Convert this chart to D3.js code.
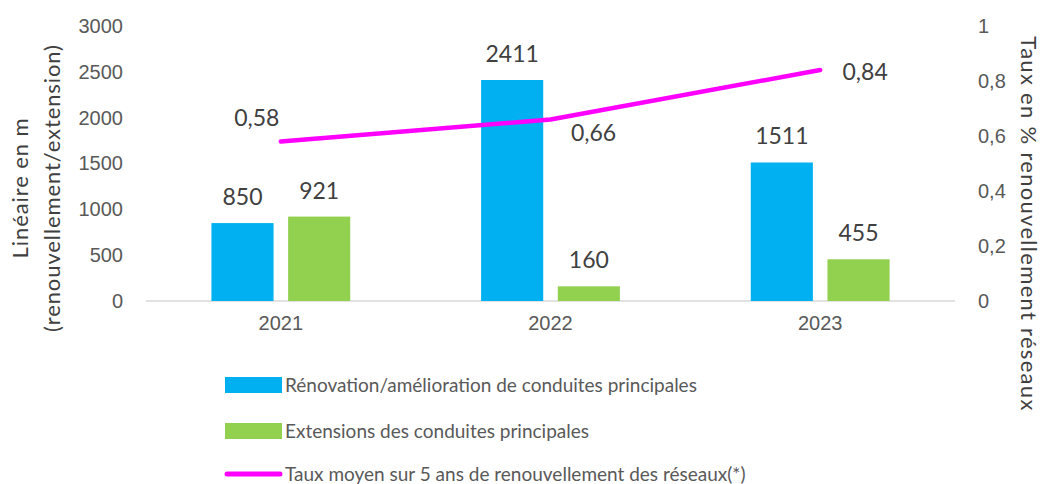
<!DOCTYPE html>
<html>
<head>
<meta charset="utf-8">
<script src="https://cdn.jsdelivr.net/npm/d3@7"></script>
<style>
  body { margin: 0; background: #fff; }
  svg { font-family: Lato, "Open Sans", sans-serif; }
</style>
</head>
<body>
<div id="chart"></div>
<script>
const years = ['2021', '2022', '2023'];
const renovation = [850, 2411, 1511];
const extensions = [921, 160, 455];
const taux = [0.58, 0.66, 0.84];
const leftTicks = [0, 500, 1000, 1500, 2000, 2500, 3000];
const rightTicks = [0, 0.2, 0.4, 0.6, 0.8, 1];
const seriesNames = [
    'Rénovation/amélioration de conduites principales',
    'Extensions des conduites principales',
    'Taux moyen sur 5 ans de renouvellement des réseaux(*)'
];

const width = 1043;
const height = 484;
const margin = {top: 26, bottom: 183, left: 146, right: 88};
const colors = ['#00B0F0', '#92D050', '#FF00FF'];
const fmt = d => String(d).replace('.', ',');

const svg = d3.select('#chart')
    .append('svg')
    .attr('width', width)
    .attr('height', height);

const x = d3.scaleBand()
    .domain(years)
    .range([margin.left, width - margin.right]);

const xSeries = d3.scaleBand()
    .domain([0, 1])
    .range([0, x.bandwidth()])
    .paddingInner(0.19)
    .paddingOuter(0.853);

const y = d3.scaleLinear()
    .domain([0, 3000])
    .range([height - margin.bottom, margin.top]);

const y2 = d3.scaleLinear()
    .domain([0, 1])
    .range([height - margin.bottom, margin.top]);

// axis line
svg.append('line')
    .attr('x1', margin.left)
    .attr('x2', width - margin.right)
    .attr('y1', y(0))
    .attr('y2', y(0))
    .attr('stroke', '#d9d9d9')
    .attr('stroke-width', 1.5);

// left axis
svg.append('g')
    .attr('transform', `translate(${margin.left - 23}, 0)`)
    .call(d3.axisLeft(y).tickValues(leftTicks).tickSize(0).tickPadding(0).tickFormat(d => d))
    .call(g => g.select('.domain').remove())
    .call(g => g.selectAll('text').attr('font-size', 20).attr('fill', '#595959').attr('font-family', null));

// right axis
svg.append('g')
    .attr('transform', `translate(${width - margin.right + 23}, 0)`)
    .call(d3.axisRight(y2).tickValues(rightTicks).tickSize(0).tickPadding(0).tickFormat(fmt))
    .call(g => g.select('.domain').remove())
    .call(g => g.selectAll('text').attr('font-size', 20).attr('fill', '#595959').attr('font-family', null));

// x axis labels
svg.append('g')
    .attr('transform', `translate(0, ${y(0) + 10})`)
    .call(d3.axisBottom(x).tickSize(0).tickPadding(0))
    .call(g => g.select('.domain').remove())
    .call(g => g.selectAll('text').attr('font-size', 20).attr('fill', '#595959').attr('font-family', null).attr('dy', '0.95em'));

// bars
const series = [renovation, extensions];
series.forEach((vals, s) => {
    svg.append('g')
        .attr('fill', colors[s])
        .selectAll('rect')
        .data(vals)
        .join('rect')
            .attr('x', (d, i) => x(years[i]) + xSeries(s))
            .attr('y', d => y(d))
            .attr('width', xSeries.bandwidth())
            .attr('height', d => y(0) - y(d));

    svg.append('g')
        .selectAll('text')
        .data(vals)
        .join('text')
            .attr('x', (d, i) => x(years[i]) + xSeries(s) + xSeries.bandwidth() / 2)
            .attr('y', d => y(d) - 18)
            .attr('text-anchor', 'middle')
            .attr('font-size', 23)
            .attr('fill', '#404040')
            .text(d => d);
});

// line
const cx = (d, i) => x(years[i]) + x.bandwidth() / 2;
const line = d3.line()
    .x(cx)
    .y(d => y2(d));

svg.append('path')
    .datum(taux)
    .attr('d', line)
    .attr('fill', 'none')
    .attr('stroke', colors[2])
    .attr('stroke-width', 4.5)
    .attr('stroke-linecap', 'round')
    .attr('stroke-linejoin', 'round');

const lineLabelOffset = [[-24, -16], [43, 21], [45, 10]];
svg.append('g')
    .selectAll('text')
    .data(taux)
    .join('text')
        .attr('x', (d, i) => cx(d, i) + lineLabelOffset[i][0])
        .attr('y', (d, i) => y2(d) + lineLabelOffset[i][1])
        .attr('text-anchor', 'middle')
        .attr('font-size', 23)
        .attr('fill', '#404040')
        .text(d => fmt(d));

// axis titles
const leftTitle = svg.append('text')
    .attr('transform', 'translate(0, 188) rotate(-90)')
    .attr('text-anchor', 'middle')
    .attr('font-size', 22)
    .attr('letter-spacing', 0.9)
    .attr('fill', '#404040');
leftTitle.append('tspan').attr('x', 0).attr('y', 28).text('Linéaire en m');
leftTitle.append('tspan').attr('x', 0).attr('y', 60).text('(renouvellement/extension)');

svg.append('text')
    .attr('transform', 'translate(1021, 224) rotate(90)')
    .attr('text-anchor', 'middle')
    .attr('font-size', 22)
    .attr('letter-spacing', 1.3)
    .attr('fill', '#404040')
    .text('Taux en % renouvellement réseaux');

// legend
const legend = svg.append('g').attr('transform', 'translate(225, 0)');
const legendY = [385, 431, 474];
seriesNames.forEach((name, i) => {
    if (i < 2) {
        legend.append('rect')
            .attr('x', 0)
            .attr('y', legendY[i] - 8)
            .attr('width', 57)
            .attr('height', 16)
            .attr('fill', colors[i]);
    } else {
        legend.append('line')
            .attr('x1', 2)
            .attr('x2', 55)
            .attr('y1', legendY[i])
            .attr('y2', legendY[i])
            .attr('stroke', colors[i])
            .attr('stroke-width', 5)
            .attr('stroke-linecap', 'round');
    }
    legend.append('text')
        .attr('x', 60)
        .attr('y', legendY[i])
        .attr('dy', '0.35em')
        .attr('font-size', 19)
        .attr('fill', '#595959')
        .text(name);
});
</script>
</body>
</html>
